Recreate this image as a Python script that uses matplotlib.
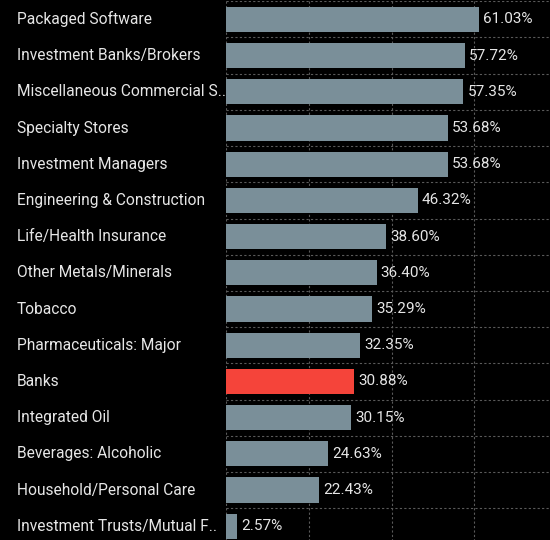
import matplotlib.pyplot as plt
import matplotlib.transforms as mtransforms

# sector names and values (%)
sectors = [
    "Packaged Software",
    "Investment Banks/Brokers",
    "Miscellaneous Commercial S..",
    "Specialty Stores",
    "Investment Managers",
    "Engineering & Construction",
    "Life/Health Insurance",
    "Other Metals/Minerals",
    "Tobacco",
    "Pharmaceuticals: Major",
    "Banks",
    "Integrated Oil",
    "Beverages: Alcoholic",
    "Household/Personal Care",
    "Investment Trusts/Mutual F..",
]
values = [61.03, 57.72, 57.35, 53.68, 53.68, 46.32, 38.60, 36.40, 35.29,
          32.35, 30.88, 30.15, 24.63, 22.43, 2.57]
highlight = "Banks"

bar_color = "#7a8f99"
red = "#f5443a"
text_color = "#e6e6e6"

plt.rcParams['font.family'] = ['Roboto', 'DejaVu Sans']

fig = plt.figure(figsize=(5.5, 5.4), dpi=100, facecolor="black")
ax = fig.add_axes([0.411, -0.008, 0.589, 1.0056])
ax.set_facecolor("black")

ypos = list(range(len(sectors)))
colors = [red if s == highlight else bar_color for s in sectors]
ax.barh(ypos, values, height=0.7, color=colors, zorder=2)

ax.set_xlim(0, 78.3)
ax.set_ylim(len(sectors) - 0.5, -0.5)

# dotted grid between rows and at every 20%
for x in [0, 20, 40, 60]:
    ax.axvline(x, color="#5a5a5a", lw=0.8, ls=(0, (2, 2)), zorder=1)
for i in range(len(sectors) + 1):
    ax.axhline(i - 0.5, color="#5a5a5a", lw=0.8, ls=(0, (2, 2)), zorder=1)

for y, v in zip(ypos, values):
    ax.text(v + 1.0, y, f"{v:.2f}%", va="center", ha="left",
            color=text_color, fontsize=11, zorder=3)

trans = mtransforms.blended_transform_factory(fig.transFigure, ax.transData)
for y, s in zip(ypos, sectors):
    ax.text(17 / 550, y, s, transform=trans, va="center", ha="left",
            color=text_color, fontsize=11.2, clip_on=False)

ax.set_xticks([])
ax.set_yticks([])
for sp in ax.spines.values():
    sp.set_visible(False)

fig.savefig("out.png", dpi=100, facecolor="black")
